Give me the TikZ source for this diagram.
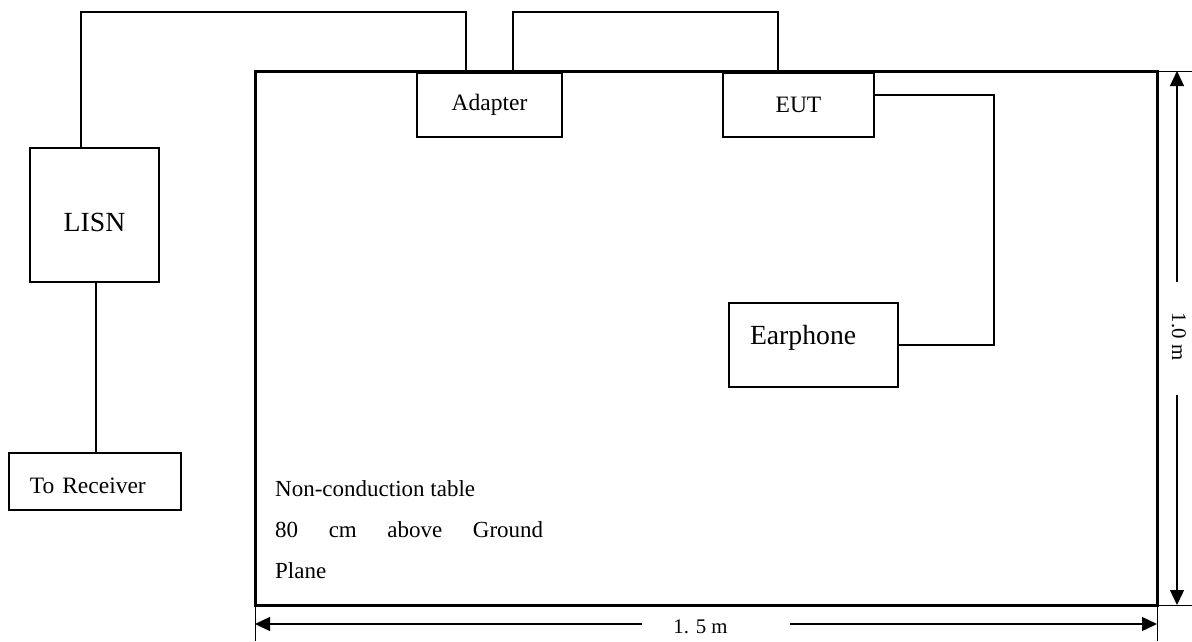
\documentclass[tikz,border=0pt]{standalone}
\usepackage{fontspec}
\setmainfont{Liberation Serif}
\usetikzlibrary{arrows.meta}

\begin{document}
\begin{tikzpicture}[
x=1pt, y=-1pt,
box/.style={draw, line width=1.3pt, inner sep=0pt, outer sep=0pt, font=\fontsize{23.5}{26}\selectfont},
bigbox/.style={box, font=\fontsize{27.7}{30}\selectfont},
wire/.style={line width=1.3pt},
dim/.style={line width=1.3pt, -{Triangle[length=15pt,width=14pt]}},
ext/.style={line width=1pt},
note/.style={anchor=base west, inner sep=0pt, font=\fontsize{23}{26}\selectfont},
dimlabel/.style={inner sep=0pt, font=\fontsize{20.8}{22}\selectfont},
]
\useasboundingbox (0,0) rectangle (1192,641);

% table
\node[draw, line width=3pt, outer sep=0pt, minimum width=902pt, minimum height=534pt] (table) at (706,338) {};

\node[box, minimum width=145pt, minimum height=64pt] (adapter) at (489.5,105) {Adapter};
\node[box, minimum width=151pt, minimum height=64pt] (eut) at (798.5,105) {EUT};
\node[bigbox, minimum width=129pt, text height=83pt, text depth=51pt] (lisn) at (94.5,215) {LISN};
\node[box, text width=172pt, align=left, text height=40pt, text depth=17pt] (rcv) at (95,481.5) {\noindent\hspace*{21pt}To Receiver};
\node[bigbox, text width=169pt, align=left, text height=41pt, text depth=43pt] (earphone) at (813.5,345) {\noindent\hspace*{21pt}Earphone};

% cables
\coordinate (topline) at (0,12);
\coordinate (wl) at ([xshift=-13.5pt]lisn.north);
\coordinate (wa) at ([xshift=-23.5pt]adapter.north);
\coordinate (wb) at ([xshift=23.5pt]adapter.north);
\coordinate (we) at ([xshift=-20.5pt]eut.north);
\draw[wire] (wl) -- (wl |- topline) -| (wa);
\draw[wire] (wb) -- (wb |- topline) -| (we);
\coordinate (bend) at (994,95);
\draw[wire] ([yshift=10pt]eut.east) -- (bend) |- (earphone.east);
\draw[wire] ([xshift=1.5pt]lisn.south) -- ([xshift=1.5pt]lisn.south |- rcv.north);

% table text
\node[note] (note1) at (275,496) {Non-conduction table};
\node[note] (note2) at (275,537) {\makebox[268pt][s]{80 cm above Ground}};
\node[note] (note3) at (275,578) {Plane};

% dimensions
\draw[ext] (table.north east) -- (1192,71);
\draw[ext] (table.south east) -- (1192,605);
\draw[ext] (table.south east) -- (1157,641);
\draw[ext] (table.south west) -- (255,641);

\node[dimlabel] (wlen) at (700.5,626.5) {1. 5 m};
\coordinate (wl1) at (642,624);
\coordinate (wl2) at (790,624);
\draw[dim] (wl1) -- (table.south west |- wl1);
\draw[dim] (wl2) -- (table.south east |- wl2);

\node[dimlabel, rotate=-90] (hgt) at (1179,336.5) {1.0 m};
\coordinate (hl1) at (1177,282);
\coordinate (hl2) at (1177,395);
\draw[dim] (hl1) -- (hl1 |- table.north east);
\draw[dim] (hl2) -- (hl2 |- table.south east);
\end{tikzpicture}
\end{document}
